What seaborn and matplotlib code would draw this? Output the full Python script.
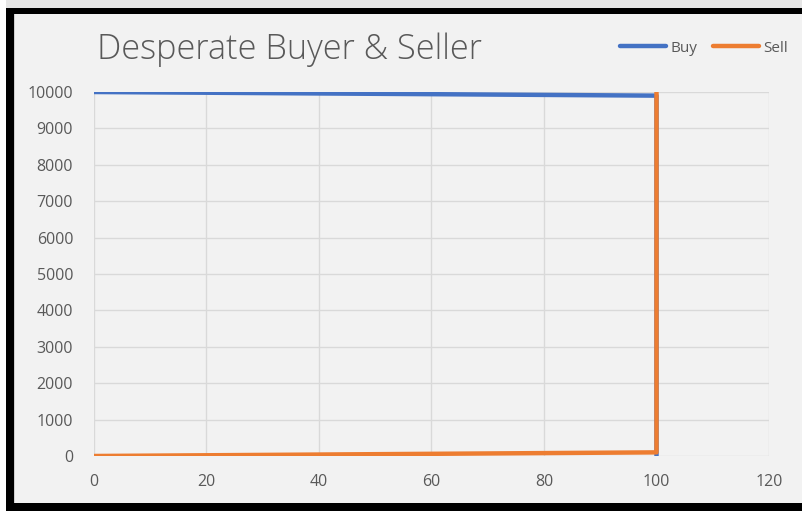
import matplotlib
matplotlib.use("Agg")
import matplotlib.pyplot as plt
import seaborn as sns
import pandas as pd
from matplotlib.patches import Rectangle
from matplotlib.lines import Line2D

# Data
x_vals = [0, 100, 100]
buy_vals = [10000, 9900, 0]
sell_vals = [0, 100, 10000]
series_names = ["Buy", "Sell"]
x_ticks = [0, 20, 40, 60, 80, 100, 120]
y_ticks = [0, 1000, 2000, 3000, 4000, 5000, 6000, 7000, 8000, 9000, 10000]
title_text = "Desperate Buyer & Seller"

df = pd.DataFrame({
    "x": x_vals + x_vals,
    "y": buy_vals + sell_vals,
    "series": [series_names[0]] * len(x_vals) + [series_names[1]] * len(x_vals),
})

sns.set_theme(style="white")
plt.rcParams["font.family"] = ["Open Sans", "DejaVu Sans"]

W, H = 803, 511
fig = plt.figure(figsize=(W / 100, H / 100), dpi=100)
fig.patch.set_facecolor("#f2f2f2")

# frame decorations (figure coords)
def rect(x0, y0, x1, y1, color, z=0):
    fig.patches.append(Rectangle((x0 / W, 1 - y1 / H), (x1 - x0) / W, (y1 - y0) / H,
                                 transform=fig.transFigure, facecolor=color,
                                 edgecolor="none", zorder=z))

rect(0, 0, W, 8, "#e6e6e6")
rect(0, 0, 6, H, "#ffffff")
rect(6, 8, W, 14, "#000000")
rect(6, 8, 14, H, "#000000")
rect(6, 503, W, H, "#000000")
rect(14, 14, 15, 503, "#d0d0d0")

ax = fig.add_axes([94 / W, 1 - 456 / H, (769 - 94) / W, (456 - 92) / H])
ax.set_facecolor("#f2f2f2")

palette = {"Buy": "#4472C4", "Sell": "#ED7D31"}
sns.lineplot(data=df, x="x", y="y", hue="series", palette=palette, sort=False,
             estimator=None, units="series", linewidth=3.2, ax=ax, legend=False,
             solid_capstyle="butt", zorder=3)

ax.set_xlim(0, 120)
ax.set_ylim(0, 10000)
ax.set_xticks(x_ticks)
ax.set_yticks(y_ticks)
ax.set_xlabel("")
ax.set_ylabel("")
for s in ax.spines.values():
    s.set_visible(False)
ax.grid(True, color="#d9d9d9", linewidth=1.0, zorder=0)
ax.set_axisbelow(True)
ax.tick_params(axis="both", length=0, labelsize=11.5, labelcolor="#595959")
ax.tick_params(axis="y", pad=15)
ax.tick_params(axis="x", pad=13)
ax.margins(0)
for lbl in ax.get_xticklabels() + ax.get_yticklabels():
    lbl.set_clip_on(False)

fig.text(97 / W, 1 - 50 / H, title_text, fontsize=24.7, color="#595959",
         va="center", ha="left", fontweight="light")

# legend
handles = [Line2D([0], [0], color=palette[n], linewidth=3.2, solid_capstyle="round") for n in series_names]
leg = fig.legend(handles, series_names, loc="center right", bbox_to_anchor=(794 / W, 1 - 48 / H),
                 frameon=False, ncol=2, fontsize=11, handlelength=3.0, handletextpad=0.3,
                 columnspacing=1.0, borderaxespad=0)
for t in leg.get_texts():
    t.set_color("#595959")

fig.savefig("out.png", dpi=100, facecolor=fig.get_facecolor())
